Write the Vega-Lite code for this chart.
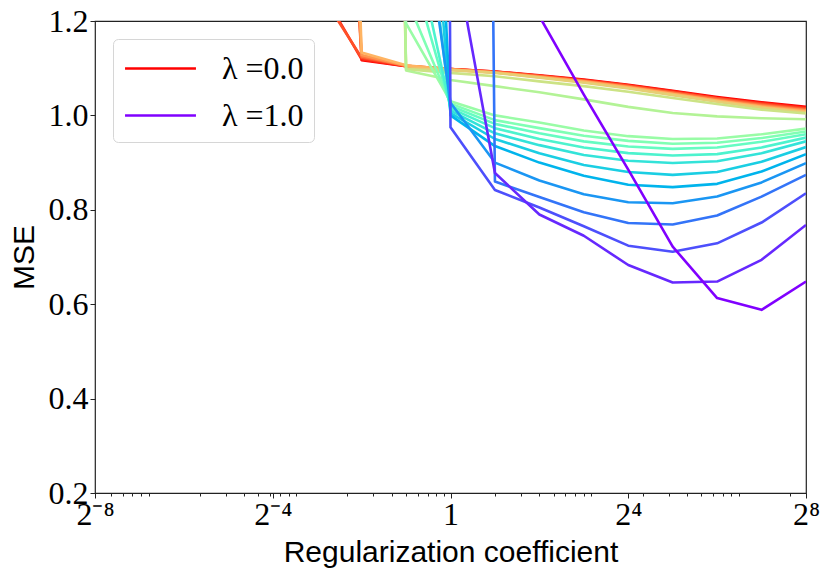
{
  "$schema": "https://vega.github.io/schema/vega-lite/v6.json",
  "width": 711,
  "height": 472,
  "autosize": {"type": "none"},
  "padding": {"left": 95, "top": 21, "right": 24, "bottom": 86},
  "background": "white",
  "data": {
    "values": [
      {"lambda": 0, "coef": 0.125, "mse": 3.0}, {"lambda": 0, "coef": 0.25, "mse": 1.117}, {"lambda": 0, "coef": 0.5, "mse": 1.104}, {"lambda": 0, "coef": 1, "mse": 1.098}, {"lambda": 0, "coef": 2, "mse": 1.093}, {"lambda": 0, "coef": 4, "mse": 1.085}, {"lambda": 0, "coef": 8, "mse": 1.076}, {"lambda": 0, "coef": 16, "mse": 1.065}, {"lambda": 0, "coef": 32, "mse": 1.052}, {"lambda": 0, "coef": 64, "mse": 1.039}, {"lambda": 0, "coef": 128, "mse": 1.028}, {"lambda": 0, "coef": 256, "mse": 1.018},
      {"lambda": 0.05, "coef": 0.125, "mse": 1.28}, {"lambda": 0.05, "coef": 0.25, "mse": 1.119}, {"lambda": 0.05, "coef": 0.5, "mse": 1.104}, {"lambda": 0.05, "coef": 1, "mse": 1.098}, {"lambda": 0.05, "coef": 2, "mse": 1.093}, {"lambda": 0.05, "coef": 4, "mse": 1.084}, {"lambda": 0.05, "coef": 8, "mse": 1.075}, {"lambda": 0.05, "coef": 16, "mse": 1.064}, {"lambda": 0.05, "coef": 32, "mse": 1.051}, {"lambda": 0.05, "coef": 64, "mse": 1.037}, {"lambda": 0.05, "coef": 128, "mse": 1.026}, {"lambda": 0.05, "coef": 256, "mse": 1.016},
      {"lambda": 0.1, "coef": 0.125, "mse": 1.27}, {"lambda": 0.1, "coef": 0.25, "mse": 1.122}, {"lambda": 0.1, "coef": 0.5, "mse": 1.105}, {"lambda": 0.1, "coef": 1, "mse": 1.098}, {"lambda": 0.1, "coef": 2, "mse": 1.092}, {"lambda": 0.1, "coef": 4, "mse": 1.084}, {"lambda": 0.1, "coef": 8, "mse": 1.074}, {"lambda": 0.1, "coef": 16, "mse": 1.063}, {"lambda": 0.1, "coef": 32, "mse": 1.049}, {"lambda": 0.1, "coef": 64, "mse": 1.036}, {"lambda": 0.1, "coef": 128, "mse": 1.024}, {"lambda": 0.1, "coef": 256, "mse": 1.014},
      {"lambda": 0.15, "coef": 0.125, "mse": 2.5}, {"lambda": 0.15, "coef": 0.25, "mse": 1.125}, {"lambda": 0.15, "coef": 0.5, "mse": 1.105}, {"lambda": 0.15, "coef": 1, "mse": 1.098}, {"lambda": 0.15, "coef": 2, "mse": 1.092}, {"lambda": 0.15, "coef": 4, "mse": 1.083}, {"lambda": 0.15, "coef": 8, "mse": 1.073}, {"lambda": 0.15, "coef": 16, "mse": 1.061}, {"lambda": 0.15, "coef": 32, "mse": 1.048}, {"lambda": 0.15, "coef": 64, "mse": 1.034}, {"lambda": 0.15, "coef": 128, "mse": 1.022}, {"lambda": 0.15, "coef": 256, "mse": 1.012},
      {"lambda": 0.2, "coef": 0.125, "mse": 3.2}, {"lambda": 0.2, "coef": 0.25, "mse": 1.128}, {"lambda": 0.2, "coef": 0.5, "mse": 1.105}, {"lambda": 0.2, "coef": 1, "mse": 1.097}, {"lambda": 0.2, "coef": 2, "mse": 1.091}, {"lambda": 0.2, "coef": 4, "mse": 1.082}, {"lambda": 0.2, "coef": 8, "mse": 1.072}, {"lambda": 0.2, "coef": 16, "mse": 1.06}, {"lambda": 0.2, "coef": 32, "mse": 1.046}, {"lambda": 0.2, "coef": 64, "mse": 1.032}, {"lambda": 0.2, "coef": 128, "mse": 1.02}, {"lambda": 0.2, "coef": 256, "mse": 1.01},
      {"lambda": 0.25, "coef": 0.125, "mse": 4.0}, {"lambda": 0.25, "coef": 0.25, "mse": 1.133}, {"lambda": 0.25, "coef": 0.5, "mse": 1.106}, {"lambda": 0.25, "coef": 1, "mse": 1.097}, {"lambda": 0.25, "coef": 2, "mse": 1.091}, {"lambda": 0.25, "coef": 4, "mse": 1.081}, {"lambda": 0.25, "coef": 8, "mse": 1.071}, {"lambda": 0.25, "coef": 16, "mse": 1.059}, {"lambda": 0.25, "coef": 32, "mse": 1.045}, {"lambda": 0.25, "coef": 64, "mse": 1.031}, {"lambda": 0.25, "coef": 128, "mse": 1.018}, {"lambda": 0.25, "coef": 256, "mse": 1.008},
      {"lambda": 0.3, "coef": 0.25, "mse": 5.0}, {"lambda": 0.3, "coef": 0.5, "mse": 1.1}, {"lambda": 0.3, "coef": 1, "mse": 1.096}, {"lambda": 0.3, "coef": 2, "mse": 1.09}, {"lambda": 0.3, "coef": 4, "mse": 1.08}, {"lambda": 0.3, "coef": 8, "mse": 1.069}, {"lambda": 0.3, "coef": 16, "mse": 1.057}, {"lambda": 0.3, "coef": 32, "mse": 1.043}, {"lambda": 0.3, "coef": 64, "mse": 1.029}, {"lambda": 0.3, "coef": 128, "mse": 1.016}, {"lambda": 0.3, "coef": 256, "mse": 1.006},
      {"lambda": 0.35, "coef": 0.25, "mse": 6.0}, {"lambda": 0.35, "coef": 0.5, "mse": 1.098}, {"lambda": 0.35, "coef": 1, "mse": 1.09}, {"lambda": 0.35, "coef": 2, "mse": 1.083}, {"lambda": 0.35, "coef": 4, "mse": 1.072}, {"lambda": 0.35, "coef": 8, "mse": 1.062}, {"lambda": 0.35, "coef": 16, "mse": 1.05}, {"lambda": 0.35, "coef": 32, "mse": 1.037}, {"lambda": 0.35, "coef": 64, "mse": 1.024}, {"lambda": 0.35, "coef": 128, "mse": 1.012}, {"lambda": 0.35, "coef": 256, "mse": 1.004},
      {"lambda": 0.4, "coef": 0.25, "mse": 6.5}, {"lambda": 0.4, "coef": 0.5, "mse": 1.095}, {"lambda": 0.4, "coef": 1, "mse": 1.075}, {"lambda": 0.4, "coef": 2, "mse": 1.062}, {"lambda": 0.4, "coef": 4, "mse": 1.049}, {"lambda": 0.4, "coef": 8, "mse": 1.034}, {"lambda": 0.4, "coef": 16, "mse": 1.018}, {"lambda": 0.4, "coef": 32, "mse": 1.005}, {"lambda": 0.4, "coef": 64, "mse": 0.998}, {"lambda": 0.4, "coef": 128, "mse": 0.994}, {"lambda": 0.4, "coef": 256, "mse": 0.992},
      {"lambda": 0.45, "coef": 0.25, "mse": 3.0}, {"lambda": 0.45, "coef": 0.5, "mse": 1.195}, {"lambda": 0.45, "coef": 1, "mse": 1.03}, {"lambda": 0.45, "coef": 2, "mse": 1.0}, {"lambda": 0.45, "coef": 4, "mse": 0.985}, {"lambda": 0.45, "coef": 8, "mse": 0.968}, {"lambda": 0.45, "coef": 16, "mse": 0.956}, {"lambda": 0.45, "coef": 32, "mse": 0.95}, {"lambda": 0.45, "coef": 64, "mse": 0.951}, {"lambda": 0.45, "coef": 128, "mse": 0.96}, {"lambda": 0.45, "coef": 256, "mse": 0.972},
      {"lambda": 0.5, "coef": 0.5, "mse": 1.25}, {"lambda": 0.5, "coef": 1, "mse": 1.025}, {"lambda": 0.5, "coef": 2, "mse": 0.99}, {"lambda": 0.5, "coef": 4, "mse": 0.973}, {"lambda": 0.5, "coef": 8, "mse": 0.957}, {"lambda": 0.5, "coef": 16, "mse": 0.946}, {"lambda": 0.5, "coef": 32, "mse": 0.94}, {"lambda": 0.5, "coef": 64, "mse": 0.942}, {"lambda": 0.5, "coef": 128, "mse": 0.952}, {"lambda": 0.5, "coef": 256, "mse": 0.966},
      {"lambda": 0.55, "coef": 0.5, "mse": 1.35}, {"lambda": 0.55, "coef": 1, "mse": 1.02}, {"lambda": 0.55, "coef": 2, "mse": 0.982}, {"lambda": 0.55, "coef": 4, "mse": 0.962}, {"lambda": 0.55, "coef": 8, "mse": 0.945}, {"lambda": 0.55, "coef": 16, "mse": 0.934}, {"lambda": 0.55, "coef": 32, "mse": 0.929}, {"lambda": 0.55, "coef": 64, "mse": 0.932}, {"lambda": 0.55, "coef": 128, "mse": 0.944}, {"lambda": 0.55, "coef": 256, "mse": 0.96},
      {"lambda": 0.6, "coef": 0.5, "mse": 1.45}, {"lambda": 0.6, "coef": 1, "mse": 1.015}, {"lambda": 0.6, "coef": 2, "mse": 0.973}, {"lambda": 0.6, "coef": 4, "mse": 0.95}, {"lambda": 0.6, "coef": 8, "mse": 0.932}, {"lambda": 0.6, "coef": 16, "mse": 0.92}, {"lambda": 0.6, "coef": 32, "mse": 0.915}, {"lambda": 0.6, "coef": 64, "mse": 0.918}, {"lambda": 0.6, "coef": 128, "mse": 0.932}, {"lambda": 0.6, "coef": 256, "mse": 0.953},
      {"lambda": 0.65, "coef": 0.5, "mse": 1.8}, {"lambda": 0.65, "coef": 1, "mse": 1.01}, {"lambda": 0.65, "coef": 2, "mse": 0.962}, {"lambda": 0.65, "coef": 4, "mse": 0.937}, {"lambda": 0.65, "coef": 8, "mse": 0.916}, {"lambda": 0.65, "coef": 16, "mse": 0.904}, {"lambda": 0.65, "coef": 32, "mse": 0.899}, {"lambda": 0.65, "coef": 64, "mse": 0.903}, {"lambda": 0.65, "coef": 128, "mse": 0.92}, {"lambda": 0.65, "coef": 256, "mse": 0.945},
      {"lambda": 0.7, "coef": 0.5, "mse": 2.2}, {"lambda": 0.7, "coef": 1, "mse": 1.005}, {"lambda": 0.7, "coef": 2, "mse": 0.95}, {"lambda": 0.7, "coef": 4, "mse": 0.92}, {"lambda": 0.7, "coef": 8, "mse": 0.895}, {"lambda": 0.7, "coef": 16, "mse": 0.88}, {"lambda": 0.7, "coef": 32, "mse": 0.874}, {"lambda": 0.7, "coef": 64, "mse": 0.88}, {"lambda": 0.7, "coef": 128, "mse": 0.902}, {"lambda": 0.7, "coef": 256, "mse": 0.933},
      {"lambda": 0.75, "coef": 0.5, "mse": 3.0}, {"lambda": 0.75, "coef": 1, "mse": 1.0}, {"lambda": 0.75, "coef": 2, "mse": 0.935}, {"lambda": 0.75, "coef": 4, "mse": 0.9}, {"lambda": 0.75, "coef": 8, "mse": 0.872}, {"lambda": 0.75, "coef": 16, "mse": 0.853}, {"lambda": 0.75, "coef": 32, "mse": 0.848}, {"lambda": 0.75, "coef": 64, "mse": 0.855}, {"lambda": 0.75, "coef": 128, "mse": 0.881}, {"lambda": 0.75, "coef": 256, "mse": 0.918},
      {"lambda": 0.8, "coef": 0.5, "mse": 1.7}, {"lambda": 0.8, "coef": 1, "mse": 1.027}, {"lambda": 0.8, "coef": 2, "mse": 0.9}, {"lambda": 0.8, "coef": 4, "mse": 0.862}, {"lambda": 0.8, "coef": 8, "mse": 0.833}, {"lambda": 0.8, "coef": 16, "mse": 0.816}, {"lambda": 0.8, "coef": 32, "mse": 0.814}, {"lambda": 0.8, "coef": 64, "mse": 0.828}, {"lambda": 0.8, "coef": 128, "mse": 0.858}, {"lambda": 0.8, "coef": 256, "mse": 0.899},
      {"lambda": 0.85, "coef": 1, "mse": 10.0}, {"lambda": 0.85, "coef": 2, "mse": 0.86}, {"lambda": 0.85, "coef": 4, "mse": 0.827}, {"lambda": 0.85, "coef": 8, "mse": 0.795}, {"lambda": 0.85, "coef": 16, "mse": 0.772}, {"lambda": 0.85, "coef": 32, "mse": 0.769}, {"lambda": 0.85, "coef": 64, "mse": 0.788}, {"lambda": 0.85, "coef": 128, "mse": 0.828}, {"lambda": 0.85, "coef": 256, "mse": 0.874},
      {"lambda": 0.9, "coef": 0.5, "mse": 20.0}, {"lambda": 0.9, "coef": 1, "mse": 0.975}, {"lambda": 0.9, "coef": 2, "mse": 0.842}, {"lambda": 0.9, "coef": 4, "mse": 0.805}, {"lambda": 0.9, "coef": 8, "mse": 0.765}, {"lambda": 0.9, "coef": 16, "mse": 0.724}, {"lambda": 0.9, "coef": 32, "mse": 0.711}, {"lambda": 0.9, "coef": 64, "mse": 0.729}, {"lambda": 0.9, "coef": 128, "mse": 0.773}, {"lambda": 0.9, "coef": 256, "mse": 0.835},
      {"lambda": 0.95, "coef": 1, "mse": 1.39}, {"lambda": 0.95, "coef": 2, "mse": 0.878}, {"lambda": 0.95, "coef": 4, "mse": 0.79}, {"lambda": 0.95, "coef": 8, "mse": 0.745}, {"lambda": 0.95, "coef": 16, "mse": 0.683}, {"lambda": 0.95, "coef": 32, "mse": 0.646}, {"lambda": 0.95, "coef": 64, "mse": 0.648}, {"lambda": 0.95, "coef": 128, "mse": 0.694}, {"lambda": 0.95, "coef": 256, "mse": 0.768},
      {"lambda": 1, "coef": 2, "mse": 3.0}, {"lambda": 1, "coef": 4, "mse": 1.21}, {"lambda": 1, "coef": 8, "mse": 1.044}, {"lambda": 1, "coef": 16, "mse": 0.885}, {"lambda": 1, "coef": 32, "mse": 0.722}, {"lambda": 1, "coef": 64, "mse": 0.613}, {"lambda": 1, "coef": 128, "mse": 0.588}, {"lambda": 1, "coef": 256, "mse": 0.648}
    ]
  },
  "mark": {"type": "line", "strokeWidth": 2.6, "strokeJoin": "round", "clip": true},
  "encoding": {
    "x": {
      "field": "coef",
      "type": "quantitative",
      "scale": {"type": "log", "base": 2, "domain": [0.00390625, 256], "nice": false},
      "axis": {
        "title": "Regularization coefficient",
        "values": [0.00390625, 0.005, 0.006, 0.007, 0.008, 0.009, 0.02, 0.03, 0.04, 0.05, 0.06, 0.0625, 0.07, 0.08, 0.09, 0.2, 0.3, 0.4, 0.5, 0.6, 0.7, 0.8, 0.9, 1, 2, 3, 4, 5, 6, 7, 8, 9, 16, 20, 30, 40, 50, 60, 70, 80, 90, 200, 256],
        "labelExpr": "datum.value == 0.00390625 ? '2⁻⁸' : datum.value == 0.0625 ? '2⁻⁴' : datum.value == 1 ? '1' : datum.value == 16 ? '2⁴' : datum.value == 256 ? '2⁸' : ''",
        "tickSize": {"condition": {"test": "indexof([0.00390625, 0.0625, 1, 16, 256], datum.value) >= 0", "value": 5}, "value": 3},
        "labelPadding": 1,
        "labelFlush": false,
        "labelOverlap": false,
        "labelBound": false,
        "titleY": 68,
        "titleBaseline": "alphabetic"
      }
    },
    "y": {
      "field": "mse",
      "type": "quantitative",
      "scale": {"domain": [0.2, 1.2], "nice": false, "zero": false},
      "axis": {
        "title": "MSE",
        "values": [0.2, 0.4, 0.6, 0.8, 1.0, 1.2],
        "format": ".1f",
        "tickSize": 5,
        "labelPadding": 2,
        "titleX": -62,
        "titleBaseline": "alphabetic"
      }
    },
    "color": {
      "field": "lambda",
      "type": "ordinal",
      "scale": {
        "domain": [0, 0.05, 0.1, 0.15, 0.2, 0.25, 0.3, 0.35, 0.4, 0.45, 0.5, 0.55, 0.6, 0.65, 0.7, 0.75, 0.8, 0.85, 0.9, 0.95, 1],
        "range": ["#ff0000", "#ff2814", "#ff4f28", "#ff743c", "#ff964f", "#ffb462", "#e6ce74", "#cce385", "#b3f396", "#99fca6", "#80ffb4", "#66fcc2", "#4df3ce", "#33e3d9", "#1acee3", "#00b4ec", "#1a96f3", "#3374f8", "#4d4ffc", "#6628fe", "#8000ff"]
      },
      "legend": {
        "title": null,
        "values": [0, 1],
        "orient": "none",
        "legendX": 18,
        "legendY": 18,
        "symbolType": "M-0.97,0H2.97",
        "symbolSize": 1296,
        "symbolStrokeWidth": 2.6,
        "labelExpr": "'λ =' + format(datum.value, '.1f')",
        "labelFont": "Liberation Serif",
        "labelFontSize": 32,
        "labelColor": "black",
        "labelOffset": 60,
        "padding": 10,
        "rowPadding": 11,
        "strokeColor": "#d6d6d6",
        "fillColor": "rgba(255,255,255,0.8)",
        "cornerRadius": 5
      }
    }
  },
  "config": {
    "view": {"stroke": "#222222", "strokeWidth": 1.2},
    "axis": {
      "grid": false,
      "domain": false,
      "tickColor": "#222222",
      "tickWidth": 1,
      "labelFont": "Liberation Serif",
      "labelFontSize": 32,
      "labelColor": "black",
      "titleFont": "Liberation Sans",
      "titleFontSize": 30,
      "titleFontWeight": "normal",
      "titleColor": "black"
    }
  }
}
